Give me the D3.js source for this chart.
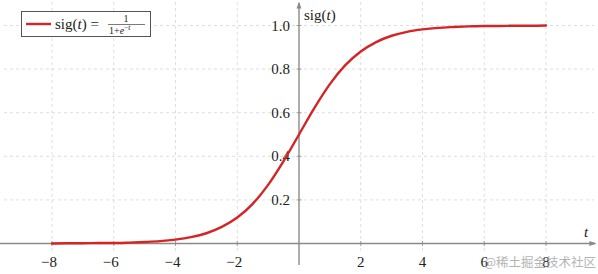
<!DOCTYPE html>
<html>
<head>
<meta charset="utf-8">
<script src="https://cdn.jsdelivr.net/npm/d3@7"></script>
<style>
  body { margin: 0; background: #fff; }
  svg { display: block; }
</style>
</head>
<body>
<svg id="chart" width="598" height="274"></svg>
<script>
// values
var tValues = [-8, -7.5, -7, -6.5, -6, -5.5, -5, -4.5, -4, -3.5, -3, -2.5, -2, -1.5, -1, -0.5,
               0, 0.5, 1, 1.5, 2, 2.5, 3, 3.5, 4, 4.5, 5, 5.5, 6, 6.5, 7, 7.5, 8];
var sigValues = [0.000, 0.001, 0.001, 0.002, 0.002, 0.004, 0.007, 0.011, 0.018, 0.029, 0.047, 0.076, 0.119, 0.182, 0.269, 0.378,
                 0.500, 0.622, 0.731, 0.818, 0.881, 0.924, 0.953, 0.971, 0.982, 0.989, 0.993, 0.996, 0.998, 0.998, 0.999, 0.999, 1.000];
var xTicks = [-8, -6, -4, -2, 2, 4, 6, 8];
var yTicks = [0.2, 0.4, 0.6, 0.8, 1.0];

var serif = "'Liberation Serif', 'DejaVu Serif', serif";
var svg = d3.select("#chart").style("font-family", serif);

var x = d3.scaleLinear().domain([-8, 8]).range([52, 546]);
var y = d3.scaleLinear().domain([0, 1]).range([243.5, 25.5]);

var axisColor = "#8a8a8a";
var red = "#d42424";

// grid
var grid = svg.append("g").attr("class", "grid")
    .style("stroke", "#d6d6d6")
    .style("stroke-width", 0.8)
    .style("stroke-dasharray", "3,3");
grid.selectAll("line.h")
    .data(yTicks)
    .enter()
    .append("line")
    .attr("class", "h")
    .attr("x1", 4).attr("x2", 594)
    .attr("y1", function(d) { return y(d); })
    .attr("y2", function(d) { return y(d); });
grid.selectAll("line.v")
    .data(xTicks)
    .enter()
    .append("line")
    .attr("class", "v")
    .attr("y1", 2).attr("y2", 254)
    .attr("x1", function(d) { return x(d); })
    .attr("x2", function(d) { return x(d); });

// arrow marker
svg.append("defs").append("marker")
    .attr("id", "arrow")
    .attr("viewBox", "0 0 10 10")
    .attr("refX", 8).attr("refY", 5)
    .attr("markerWidth", 5).attr("markerHeight", 5)
    .attr("orient", "auto")
    .append("path")
    .attr("d", "M0,1.5 L10,5 L0,8.5 Z")
    .style("fill", axisColor);

// axes
var x0 = x(0), y0 = y(0);
svg.append("line")
    .attr("x1", 0).attr("x2", 595)
    .attr("y1", y0).attr("y2", y0)
    .style("stroke", axisColor).style("stroke-width", 1.4)
    .attr("marker-end", "url(#arrow)");
svg.append("line")
    .attr("x1", x0).attr("x2", x0)
    .attr("y1", 265).attr("y2", 3)
    .style("stroke", axisColor).style("stroke-width", 1.4)
    .attr("marker-end", "url(#arrow)");

// ticks
svg.selectAll("line.xtick")
    .data(xTicks)
    .enter()
    .append("line")
    .attr("class", "xtick")
    .attr("x1", function(d) { return x(d); })
    .attr("x2", function(d) { return x(d); })
    .attr("y1", y0 - 2.5).attr("y2", y0 + 2.5)
    .style("stroke", axisColor).style("stroke-width", 0.8);
svg.selectAll("line.ytick")
    .data(yTicks)
    .enter()
    .append("line")
    .attr("class", "ytick")
    .attr("y1", function(d) { return y(d); })
    .attr("y2", function(d) { return y(d); })
    .attr("x1", x0 - 2.5).attr("x2", x0 + 2.5)
    .style("stroke", axisColor).style("stroke-width", 0.8);

var fmtX = function(d) { return d < 0 ? "\u2212" + (-d) : String(d); };
svg.selectAll("text.xlab")
    .data(xTicks)
    .enter()
    .append("text")
    .attr("class", "xlab")
    .attr("x", function(d) { return d < 0 ? x(d) - 3 : x(d); })
    .attr("y", 267)
    .attr("text-anchor", "middle")
    .style("font-family", serif)
    .style("font-size", "15px")
    .style("fill", "#222")
    .text(fmtX);
svg.selectAll("text.ylab")
    .data(yTicks)
    .enter()
    .append("text")
    .attr("class", "ylab")
    .attr("x", x0 - 9)
    .attr("y", function(d) { return y(d) + 5; })
    .attr("text-anchor", "end")
    .style("font-family", serif)
    .style("font-size", "15px")
    .style("fill", "#222")
    .text(d3.format(".1f"));

// axis labels
var yl = svg.append("text").attr("x", x0 + 5).attr("y", 20)
    .style("font-family", serif)
    .style("font-size", "15px").style("fill", "#222");
yl.append("tspan").text("sig(");
yl.append("tspan").style("font-style", "italic").text("t");
yl.append("tspan").text(")");
svg.append("text").attr("x", 584).attr("y", 237)
    .style("font-family", serif)
    .style("font-size", "15px").style("font-style", "italic").style("fill", "#222")
    .text("t");

// curve
var line = d3.line()
    .x(function(d) { return x(d[0]); })
    .y(function(d) { return y(d[1]); })
    .curve(d3.curveMonotoneX);
svg.append("path")
    .datum(d3.zip(tValues, sigValues))
    .attr("d", line)
    .style("fill", "none")
    .style("stroke", red)
    .style("stroke-width", 2.4)
    .style("stroke-linecap", "round");

// legend
var lg = svg.append("g").style("font-family", serif);
lg.append("rect")
    .attr("x", 21.5).attr("y", 11.5).attr("width", 129).attr("height", 25)
    .style("fill", "#fff").style("stroke", "#555").style("stroke-width", 1);
lg.append("line")
    .attr("x1", 26).attr("x2", 51).attr("y1", 24).attr("y2", 24)
    .style("stroke", red).style("stroke-width", 2.4);
var lt = lg.append("text").attr("x", 55).attr("y", 29)
    .style("font-size", "15px").style("fill", "#222");
lt.append("tspan").text("sig(");
lt.append("tspan").style("font-style", "italic").text("t");
lt.append("tspan").text(") =");
lg.append("text").attr("x", 126).attr("y", 22)
    .attr("text-anchor", "middle")
    .style("font-size", "10px").style("fill", "#222").text("1");
lg.append("line")
    .attr("x1", 108).attr("x2", 145).attr("y1", 24.5).attr("y2", 24.5)
    .style("stroke", "#222").style("stroke-width", 0.6);
var den = lg.append("text").attr("x", 109).attr("y", 33.5)
    .style("font-size", "10px").style("fill", "#222");
den.append("tspan").text("1+");
den.append("tspan").style("font-style", "italic").text("e");
den.append("tspan").attr("dy", -3.5).style("font-size", "7.5px").text("\u2212");
den.append("tspan").style("font-size", "7.5px").style("font-style", "italic").text("t");

// watermark
svg.append("text")
    .attr("x", 596).attr("y", 267)
    .attr("text-anchor", "end")
    .style("font-family", "'Noto Sans CJK SC', sans-serif")
    .style("font-size", "12.5px")
    .style("fill", "#a8a8a8")
    .style("opacity", 0.85)
    .text("@稀土掘金技术社区");
</script>
</body>
</html>
